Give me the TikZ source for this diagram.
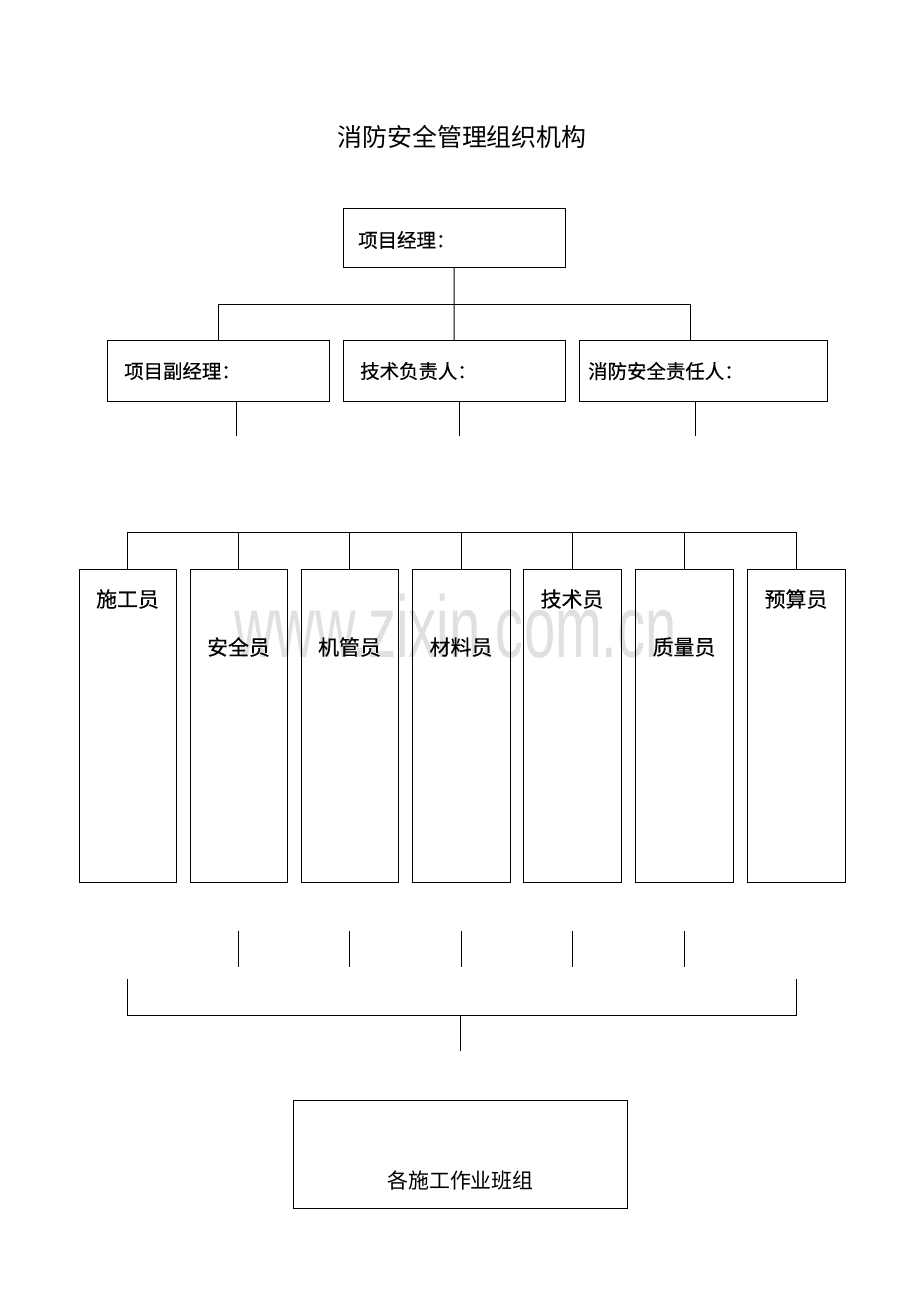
\documentclass[tikz,border=0pt]{standalone}
\usepackage{fontspec}
\setmainfont{Liberation Sans}
\newfontfamily\cjk{Noto Sans CJK SC}
\newfontfamily\cjkhei[FakeBold=0.35]{Noto Sans CJK SC}
\begin{document}
\begin{tikzpicture}[x=1bp,y=-1bp,
  box/.style={draw, line width=1bp, inner sep=0pt, outer sep=0pt, anchor=north west},
  lbl/.style={inner sep=0pt, anchor=west, font=\cjkhei\fontsize{19.5}{20}\selectfont},
  role/.style={inner sep=0pt, font=\cjkhei\fontsize{21}{22}\selectfont},
  team/.style={inner sep=0pt, font=\cjk\fontsize{21}{22}\selectfont},
  conn/.style={line width=1bp}]
\path[use as bounding box, fill=white] (0,0) rectangle (920,1302);

% watermark
\node[inner sep=0pt, anchor=base west, text=black!12, font=\fontsize{88}{88}\selectfont, xscale=0.64] (wm) at (234,657) {www.zixin.com.cn};

% title
\node[inner sep=0pt, font=\cjk\fontsize{25}{25}\selectfont] (title) at (462,137) {消防安全管理组织机构};

% top box
\node[box, minimum width=222bp, minimum height=58bp] (pm) at (343,209) {};
\node[lbl] (pmt) at (358,240) {项目经理：};

% second row
\node[box, minimum width=222bp, minimum height=61bp] (b1) at (107,340) {};
\node[box, minimum width=222bp, minimum height=61bp] (b2) at (343,340) {};
\node[box, minimum width=248bp, minimum height=61bp] (b3) at (579,340) {};
\node[lbl] (b1t) at (124,371) {项目副经理：};
\node[lbl] (b2t) at (360,371) {技术负责人：};
\node[lbl] (b3t) at (588,371) {消防安全责任人：};

\coordinate (j0) at (454,304);
\coordinate (h1) at (218,304);
\coordinate (h3) at (690,304);
\draw[conn] (pm.south) -- (j0);
\draw[conn] (b1.north -| h1) -- (h1) -- (h3) -- (b3.north -| h3);
\draw[conn] (j0) -- (b2.north);

\coordinate (s1) at (236,436);
\coordinate (s2) at (459,436);
\coordinate (s3) at (695,436);
\draw[conn] (b1.south -| s1) -- (s1);
\draw[conn] (b2.south -| s2) -- (s2);
\draw[conn] (b3.south -| s3) -- (s3);

% third row
\node[box, minimum width=97bp, minimum height=313bp] (c1) at (79,569) {};
\node[box, minimum width=97bp, minimum height=313bp] (c2) at (190,569) {};
\node[box, minimum width=97bp, minimum height=313bp] (c3) at (301,569) {};
\node[box, minimum width=98bp, minimum height=313bp] (c4) at (412,569) {};
\node[box, minimum width=98bp, minimum height=313bp] (c5) at (523,569) {};
\node[box, minimum width=98bp, minimum height=313bp] (c6) at (635,569) {};
\node[box, minimum width=98bp, minimum height=313bp] (c7) at (747,569) {};

\coordinate (ya) at (0,599);
\coordinate (yb) at (0,647);
\node[role] (c1t) at (c1.north |- ya) {施工员};
\node[role] (c2t) at (c2.north |- yb) {安全员};
\node[role] (c3t) at (c3.north |- yb) {机管员};
\node[role] (c4t) at (c4.north |- yb) {材料员};
\node[role] (c5t) at (c5.north |- ya) {技术员};
\node[role] (c6t) at (c6.north |- yb) {质量员};
\node[role] (c7t) at (c7.north |- ya) {预算员};

\coordinate (bar) at (0,532);
\draw[conn] (c1.north |- bar) -- (c7.north |- bar);
\foreach \i in {1,...,7} {\draw[conn] (c\i.north) -- (c\i.north |- bar);}

% lower stubs
\coordinate (t1) at (0,931);
\coordinate (t2) at (0,967);
\foreach \i in {2,...,6} {\draw[conn] (c\i.south |- t1) -- (c\i.south |- t2);}

% bracket
\coordinate (k1) at (0,979);
\coordinate (k2) at (0,1015);
\coordinate (k3) at (460,1051);
\draw[conn] (c1.south |- k1) -- (c1.south |- k2) -- (c7.south |- k2) -- (c7.south |- k1);
\draw[conn] (k3 |- k2) -- (k3);

% bottom box
\node[box, minimum width=334bp, minimum height=108bp] (team) at (293,1100) {};
\node[team] (teamt) at (460.5,1180) {各施工作业班组};
\end{tikzpicture}
\end{document}
